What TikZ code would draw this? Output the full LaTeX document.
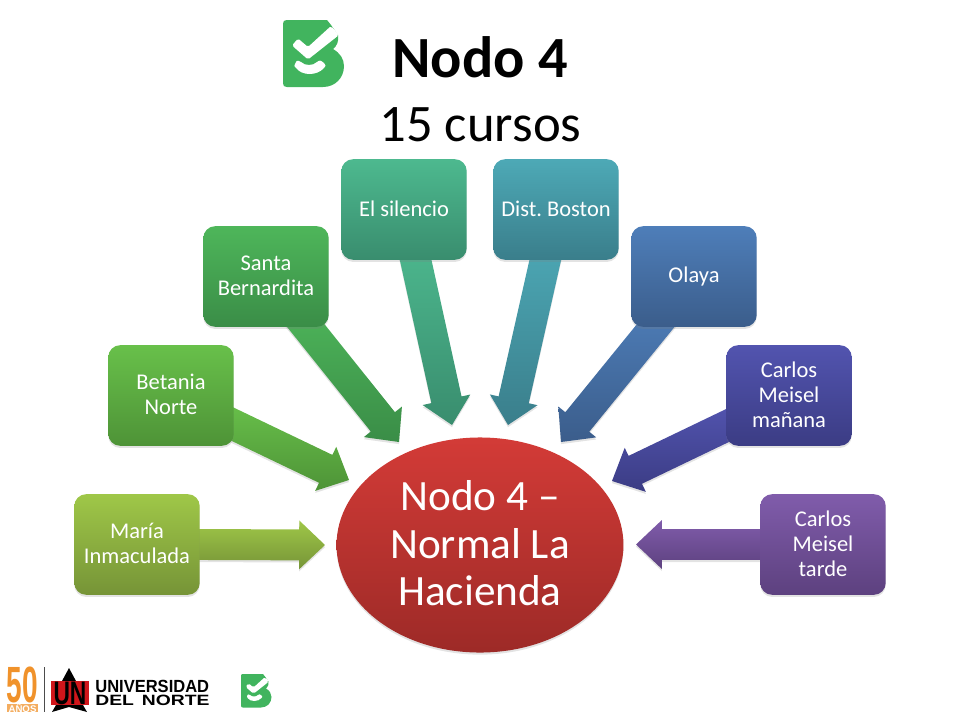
\documentclass[tikz,border=0pt]{standalone}
\usepackage{fontspec}
\setmainfont{Carlito}
\newfontfamily\logofont{Liberation Sans}
\usetikzlibrary{calc,shapes.geometric,shadows}
\pgfdeclarelayer{arrows}
\pgfsetlayers{arrows,main}
% box colours
\definecolor{mariatop}{HTML}{9FC748}\definecolor{mariabot}{HTML}{769437}
\definecolor{betaniatop}{HTML}{68C04A}\definecolor{betaniabot}{HTML}{4E9337}
\definecolor{santatop}{HTML}{4EB65A}\definecolor{santabot}{HTML}{3A8D47}
\definecolor{silenciotop}{HTML}{4DB98F}\definecolor{silenciobot}{HTML}{398D6E}
\definecolor{bostontop}{HTML}{4DA9B6}\definecolor{bostonbot}{HTML}{3A7E8B}
\definecolor{olayatop}{HTML}{4E7EB9}\definecolor{olayabot}{HTML}{3B5D8B}
\definecolor{mananatop}{HTML}{5254AF}\definecolor{mananabot}{HTML}{3B3C84}
\definecolor{tardetop}{HTML}{805CAB}\definecolor{tardebot}{HTML}{5D417F}
\definecolor{hubtop}{HTML}{D33B37}\definecolor{hubbot}{HTML}{9D2A27}
\definecolor{logogreen}{HTML}{41B45E}
\definecolor{logoorange}{HTML}{F0922B}
\definecolor{logored}{HTML}{D0161B}
\tikzset{
  softshadow/.style={drop shadow={shadow xshift=0pt,shadow yshift=-1.2pt,opacity=0.22}},
  branchbox/.style={rounded corners=6.8pt,minimum width=71.4pt,minimum height=57.3pt,inner sep=0pt,
    align=center,text=white,font=\fontsize{12.8}{14.2}\selectfont,softshadow},
  hubnode/.style={ellipse,minimum width=163.3pt,minimum height=122.4pt,inner sep=0pt,align=center,
    text=white,top color=hubtop,bottom color=hubbot,font=\fontsize{24.6}{27.2}\selectfont,softshadow},
  pics/logo/.style={code={
    \fill[logogreen] (4,0) -- (44,0) -- (48,5) -- (55,15) .. controls (56,21) and (54,26) .. (50,29)
      .. controls (57,33) and (61,39) .. (61,46) .. controls (61,58) and (52,67) .. (40,67)
      -- (4,67) .. controls (1,67) and (0,66) .. (0,63) -- (0,4) .. controls (0,1) and (1,0) .. (4,0) -- cycle;
    \fill[white,rounded corners=1pt] (15,18.5) -- (25,27) -- (48,6) -- (56,15) -- (25,39.5) -- (9,25.5) -- cycle;
    \fill[white] (12,44) .. controls (14,40) .. (18,42) .. controls (22,46) and (30,46) .. (34,42)
      .. controls (37,40) .. (41,43) .. controls (43,46) .. (41,48) .. controls (34,56) and (19,56) .. (13,48)
      .. controls (11,46) .. (12,44) -- cycle;
  }}
}
% tail on the box border, tip on a coordinate; third argument is the colour name
\newcommand{\blockarrow}[3]{
  \coordinate (arrowtail) at ($(#1)!-12pt!(#2)$);
  \coordinate (arrowbase) at ($(#2)!14.7pt!(#1)$);
  \shade[top color=#3top,bottom color=#3bot,softshadow]
    ($(arrowtail)!8.8pt!90:(#2)$) -- ($(arrowbase)!8.8pt!90:(#2)$) -- ($(arrowbase)!13.9pt!90:(#2)$) -- (#2)
    -- ($(arrowbase)!13.9pt!-90:(#2)$) -- ($(arrowbase)!8.8pt!-90:(#2)$) -- ($(arrowtail)!8.8pt!-90:(#2)$) -- cycle;
}
\begin{document}
\begin{tikzpicture}[y=-0.02cm, x=0.02cm]
  \useasboundingbox (0,0) rectangle (960,720);
  % title
  \node[anchor=base,font=\fontsize{33.2}{36}\selectfont\bfseries] (title) at (480,77) {Nodo 4};
  \node[anchor=base,font=\fontsize{30}{32}\selectfont] (subtitle) at (480.5,141) {15 cursos};
  \pic at (283,20) {logo};
  % hub
  \node[hubnode] (hub) at (480,545) {Nodo 4 --\\Normal La\\Hacienda\rule[-2.2pt]{0pt}{0pt}};
  % branches
  \foreach \name/\x/\y/\txt in {
      maria/137/544.5/{María\\Inmaculada},
      betania/171/395.5/{Betania\\Norte},
      santa/266/276.5/{Santa\\Bernardita},
      silencio/404/209.5/{El silencio},
      boston/556/209.5/{Dist.\ Boston},
      olaya/694/276.5/{Olaya},
      manana/789/395.5/{Carlos\\Meisel\\mañana},
      tarde/823/544.5/{Carlos\\Meisel\\tarde}} {
    \node[branchbox,top color=\name top,bottom color=\name bot] (\name) at (\x,\y) {\txt\rule[-1.4pt]{0pt}{0pt}};
  }
  % arrows
  \begin{pgfonlayer}{arrows}
    \foreach \name/\ang/\x/\y in {
        maria/0/325/545,
        betania/-25.4/349/480,
        santa/-51.2/399/442,
        silencio/-77.4/452/425,
        boston/-102.6/508/425,
        olaya/-128.8/561/442,
        manana/-154.2/612/481,
        tarde/180/636/544.5} {
      \coordinate (\name tip) at (\x,\y);
      \blockarrow{\name.\ang}{\name tip}{\name}
    }
  \end{pgfonlayer}
  % university logo
  \node[text=logoorange,font=\logofont\bfseries\fontsize{29}{29}\selectfont,inner sep=0pt] (fifty) at (22.5,685) {\scalebox{0.55}[1.0]{50}};
  \fill[logoorange,opacity=0.75] (7,704) rectangle (38,712);
  \node[text=white,font=\logofont\bfseries\fontsize{5.5}{6}\selectfont,inner sep=0pt] (anos) at (22.5,708) {AÑOS};
  \draw[black!70,line width=0.4pt] (44,667) -- (44,712);
  \fill[black] (69,668) -- (76,681) -- (83,705) -- (87,712) -- (69,707) -- (52,712) -- (56,705) -- (62,681) -- cycle;
  \fill[logored] (51,681) rectangle (89,705);
  \node[text=black,font=\logofont\bfseries\fontsize{18}{18}\selectfont,inner sep=0pt] (un) at (70,693) {\scalebox{0.72}[1.03]{UN}};
  \node[anchor=base west,font=\logofont\bfseries\fontsize{10}{10}\selectfont,inner sep=0pt] (uninorte) at (95,692) {\scalebox{0.94}[1.0]{UNIVERSIDAD}};
  \node[anchor=base west,font=\logofont\bfseries\fontsize{10}{10}\selectfont,inner sep=0pt] (delnorte) at (95,705) {\scalebox{1.1}[0.85]{DEL\hspace{4.1pt}NORTE}};
  \pic[scale=0.5] at (241,674) {logo};
\end{tikzpicture}
\end{document}
